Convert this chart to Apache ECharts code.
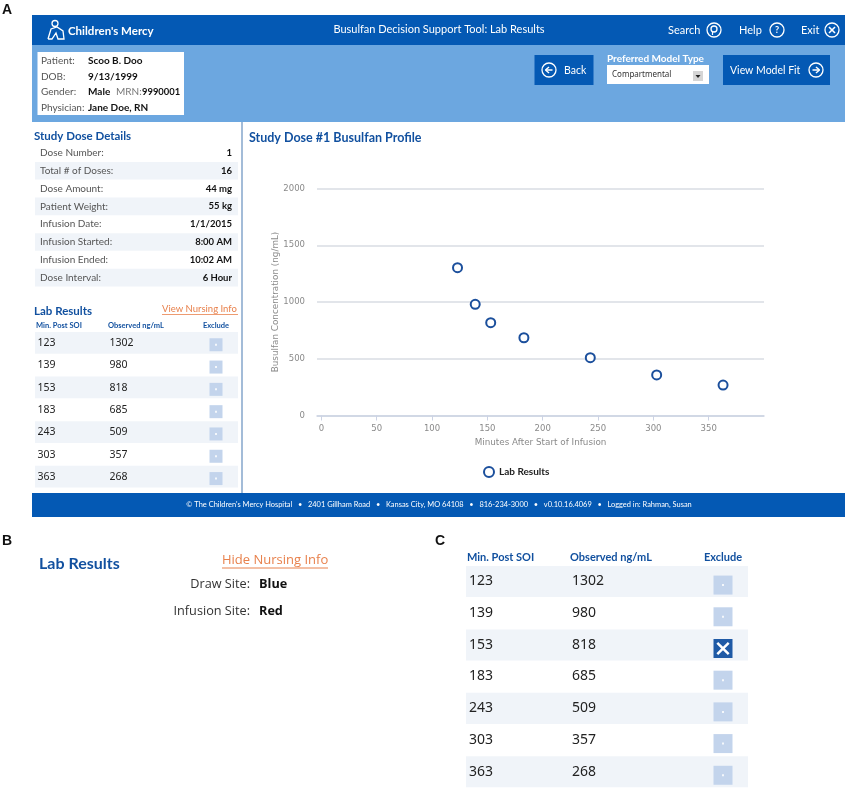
<!DOCTYPE html>
<html>
<head>
<meta charset="utf-8">
<title>Busulfan Decision Support Tool</title>
<script src="https://cdn.jsdelivr.net/npm/echarts@6/dist/echarts.min.js"></script>
<style>
html, body { margin: 0; padding: 0; background: #fff; }
#main { width: 851px; height: 791px; }
</style>
</head>
<body>
<div id="main"></div>
<script>
var minutes = [123, 139, 153, 183, 243, 303, 363];
var observed = [1302, 980, 818, 685, 509, 357, 268];
var xTicks = [0, 50, 100, 150, 200, 250, 300, 350];
var yTicks = [0, 500, 1000, 1500, 2000];
var doseLabels = ['Dose Number:', 'Total # of Doses:', 'Dose Amount:', 'Patient Weight:', 'Infusion Date:', 'Infusion Started:', 'Infusion Ended:', 'Dose Interval:'];
var doseValues = ['1', '16', '44 mg', '55 kg', '1/1/2015', '8:00 AM', '10:02 AM', '6 Hour'];
var patientLabels = ['Patient:', 'DOB:', 'Gender:', 'Physician:'];
var patientValues = ['Scoo B. Doo', '9/13/1999', 'Male', 'Jane Doe, RN'];
var excludedInC = [153];

var myChart = echarts.init(document.getElementById('main'));
var BLUE = '#0459b4', LIGHT = '#6ca7e0', TITLE = '#11509f', STRIPE = '#f0f4f9', BOX = '#c3d4ec', ORANGE = '#e8814c';
var els = [];

function rect(x, y, w, h, fill) {
    els.push({type: 'rect', shape: {x: x, y: y, width: w, height: h}, style: {fill: fill}});
}
function text(x, y, str, size, color, opt) {
    opt = opt || {};
    els.push({type: 'text', x: x, y: y, z: 5, style: {
        text: str, fontSize: size, fill: color,
        fontFamily: opt.font || 'Lato',
        fontWeight: opt.bold ? 'bold' : 'normal',
        align: opt.align || 'left', verticalAlign: 'middle'
    }});
}
function line(x1, y1, x2, y2, color, w) {
    els.push({type: 'line', z: 6, shape: {x1: x1, y1: y1, x2: x2, y2: y2}, style: {stroke: color, lineWidth: w}});
}
function ring(x, y, r) {
    els.push({type: 'circle', z: 6, shape: {cx: x, cy: y, r: r}, style: {fill: 'none', stroke: '#fff', lineWidth: 1.3}});
}
// round icons of the top bar and the buttons
function arrowIcon(x, y, dir) {
    ring(x, y, 7);
    line(x - 3.5, y, x + 3.5, y, '#fff', 1.5);
    line(x + dir * 3.5, y, x, y - 3, '#fff', 1.5);
    line(x + dir * 3.5, y, x, y + 3, '#fff', 1.5);
}

// panel A frame
rect(32, 15, 813, 30, BLUE);
rect(32, 45, 813, 77, LIGHT);
rect(32, 493, 813, 24, BLUE);
rect(241, 122, 2, 371, '#a3bcd8');

// logo
ring(55, 23.5, 3);
els.push({type: 'polyline', z: 6, shape: {points: [[48, 39], [51, 29], [57, 27], [63, 31], [64, 39], [58, 39], [56, 33], [52, 39], [48, 39]]}, style: {fill: 'none', stroke: '#fff', lineWidth: 1.3}});
text(68, 31.5, "Children's Mercy", 11.5, '#fff', {bold: true});

// top bar
text(439, 29, 'Busulfan Decision Support Tool: Lab Results', 11, '#fff', {align: 'center'});
text(668, 30.5, 'Search', 11, '#fff');
ring(714, 30, 7);
ring(714, 29, 3);
line(712.5, 32, 712.5, 35, '#fff', 1.2);
text(739, 30.5, 'Help', 11, '#fff');
ring(777, 30, 7);
text(777, 30, '?', 9, '#fff', {align: 'center', bold: true});
text(801, 30.5, 'Exit', 11, '#fff');
ring(832, 30, 7);
line(829, 27, 835, 33, '#fff', 1.6);
line(835, 27, 829, 33, '#fff', 1.6);

// patient box
rect(37.5, 52, 146.5, 63, '#fff');
patientLabels.forEach(function (s, i) {
    var y = 61 + i * 15.5;
    text(41, y, s, 10, '#555');
    text(88, y, patientValues[i], 10, '#111', {bold: true});
});
text(116, 92, 'MRN:', 10, '#777');
text(142, 92, '9990001', 9.4, '#111', {bold: true});

// buttons
rect(534.5, 55, 59, 30, BLUE);
arrowIcon(549, 70, -1);
text(564, 70.5, 'Back', 10.5, '#fff');
text(607, 58.5, 'Preferred Model Type', 10, '#fff', {bold: true});
rect(607, 65, 102, 19, '#fff');
text(612, 75, 'Compartmental', 8, '#333', {font: 'Noto Sans'});
rect(693, 71, 10, 10, '#d5d5d5');
els.push({type: 'polygon', z: 6, shape: {points: [[695.5, 75], [700.5, 75], [698, 78]]}, style: {fill: '#222'}});
rect(723, 55, 107, 30, BLUE);
text(730, 70.5, 'View Model Fit', 10.5, '#fff');
arrowIcon(816, 70, 1);

// study dose details
text(34, 136.5, 'Study Dose Details', 11.5, TITLE, {bold: true});
text(249, 137.5, 'Study Dose #1 Busulfan Profile', 12.5, TITLE, {bold: true});
doseLabels.forEach(function (s, i) {
    var y = 153 + i * 17.8;
    if (i % 2 == 1) rect(35, y - 8.8, 203, 17.6, STRIPE);
    text(40, y, s, 10, '#555');
    text(232, y, doseValues[i], 9.5, '#111', {bold: true, align: 'right'});
});

// lab results, small table of panel A and bigger one of panel C
function labTable(cfg) {
    text(cfg.x1, cfg.headY, 'Min. Post SOI', cfg.headSize, TITLE, {bold: true});
    text(cfg.x2, cfg.headY, 'Observed ng/mL', cfg.headSize, TITLE, {bold: true});
    text(cfg.boxX, cfg.headY, 'Exclude', cfg.headSize, TITLE, {bold: true, align: 'center'});
    minutes.forEach(function (m, i) {
        var top = cfg.top + i * cfg.rowH;
        if (i % 2 == 0) rect(cfg.left, top, cfg.width, cfg.rowH - 0.6, STRIPE);
        var mid = top + cfg.rowH * 0.46;
        text(cfg.x1 + cfg.pad, mid + 0.8, String(m), cfg.size, '#222', {font: 'Noto Sans'});
        text(cfg.x2 + cfg.pad, mid + 0.8, String(observed[i]), cfg.size, '#222', {font: 'Noto Sans'});
        var bs = cfg.box, by = mid + cfg.boxOff;
        if (cfg.excluded && cfg.excluded.indexOf(m) >= 0) {
            rect(cfg.boxX - bs / 2, by - bs / 2, bs, bs, '#1f5aa6');
            line(cfg.boxX - bs * 0.3, by - bs * 0.3, cfg.boxX + bs * 0.3, by + bs * 0.3, '#fff', 2.5);
            line(cfg.boxX + bs * 0.3, by - bs * 0.3, cfg.boxX - bs * 0.3, by + bs * 0.3, '#fff', 2.5);
        } else {
            rect(cfg.boxX - bs / 2, by - bs / 2, bs, bs, BOX);
            rect(cfg.boxX - 1, by - 1, 2, 2, '#f4f7fb');
        }
    });
}
text(34, 311.5, 'Lab Results', 11.5, TITLE, {bold: true});
text(162, 309, 'View Nursing Info', 9.5, ORANGE);
line(162, 314.5, 238, 314.5, ORANGE, 0.8);
labTable({x1: 36, x2: 108, boxX: 216, headY: 326, headSize: 7.5, top: 332, rowH: 22.3, left: 35, width: 203, size: 10.5, pad: 1.5, box: 13, boxOff: 2.5});

// footer
text(439, 505, "© The Children's Mercy Hospital   •   2401 Gillham Road   •   Kansas City, MO 64108   •   816-234-3000   •   v0.10.16.4069   •   Logged in: Rahman, Susan", 7.45, '#fff', {align: 'center'});

// panel letters
text(2, 10, 'A', 14, '#111', {font: 'Liberation Sans', bold: true});
text(2, 541, 'B', 14, '#111', {font: 'Liberation Sans', bold: true});
text(435, 541, 'C', 14, '#111', {font: 'Liberation Sans', bold: true});

// panel B
text(39, 564, 'Lab Results', 16, TITLE, {bold: true});
text(222, 560, 'Hide Nursing Info', 13, ORANGE, {font: 'Open Sans'});
line(222, 568, 328, 568, ORANGE, 1);
text(250, 584.5, 'Draw Site:', 12.7, '#333', {font: 'Open Sans', align: 'right'});
text(259, 584.5, 'Blue', 12.7, '#111', {font: 'Open Sans', bold: true});
text(250, 611.5, 'Infusion Site:', 12.7, '#333', {font: 'Open Sans', align: 'right'});
text(259, 611.5, 'Red', 12.7, '#111', {font: 'Open Sans', bold: true});

// panel C
labTable({x1: 467, x2: 570, boxX: 723, headY: 557.5, headSize: 11, top: 566, rowH: 31.7, left: 466, width: 282, size: 14, pad: 2, box: 19, boxOff: 4.5, excluded: excludedInC});

var option = {
    animation: false,
    backgroundColor: '#fff',
    textStyle: {fontFamily: 'DejaVu Sans'},
    grid: {left: 317, right: 87, top: 188.5, bottom: 375.5},
    legend: {
        left: 478, top: 461, itemWidth: 10, itemHeight: 10, icon: 'circle', itemGap: 7,
        textStyle: {fontFamily: 'Lato', fontWeight: 'bold', fontSize: 10, color: '#222', padding: [4, 0, 0, 0]},
        data: ['Lab Results']
    },
    xAxis: {
        type: 'value', min: -4, max: 400,
        name: 'Minutes After Start of Infusion', nameLocation: 'middle', nameGap: 23, nameMoveOverlap: false,
        nameTextStyle: {color: '#8a8a8a', fontSize: 8.8},
        axisLine: {lineStyle: {color: '#ccd3e4', width: 1.5}},
        axisTick: {show: true, length: 5, customValues: xTicks, lineStyle: {color: '#ccd3e4'}},
        axisLabel: {customValues: xTicks, color: '#8a8a8a', fontSize: 8.5, margin: 9},
        splitLine: {show: false}
    },
    yAxis: {
        type: 'value', min: 0, max: 2000,
        name: 'Busulfan Concentration (ng/mL)', nameLocation: 'middle', nameGap: 37, nameMoveOverlap: false,
        nameTextStyle: {color: '#8a8a8a', fontSize: 8.8},
        axisLine: {show: false},
        axisTick: {show: false},
        axisLabel: {customValues: yTicks, formatter: function (v) { return String(v); }, color: '#8a8a8a', fontSize: 8.5, margin: 12},
        splitLine: {lineStyle: {color: '#d9dce3', width: 1.5}}
    },
    series: [{
        name: 'Lab Results', type: 'scatter', symbol: 'circle', symbolSize: 9,
        itemStyle: {color: '#fff', borderColor: '#1b4f9c', borderWidth: 2, opacity: 1},
        data: minutes.map(function (m, i) { return [m, observed[i]]; })
    }],
    graphic: {elements: els}
};
myChart.setOption(option);
</script>
</body>
</html>
